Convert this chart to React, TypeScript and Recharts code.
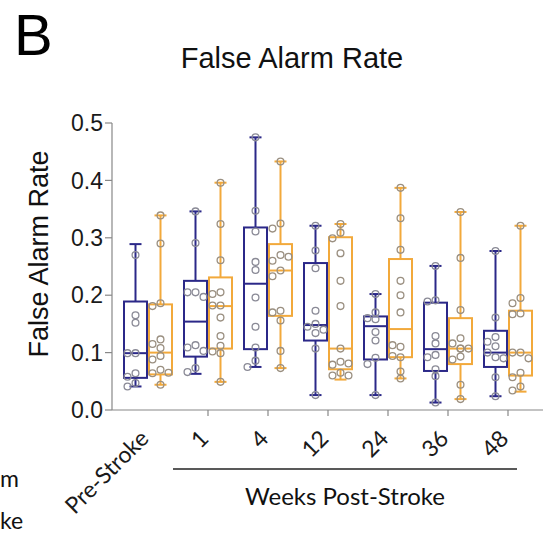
import { ComposedChart, Bar, XAxis, YAxis } from 'recharts'

// groups on the x axis
const groups = ['Pre-Stroke', '1', '4', '12', '24', '36', '48']

// five-number summaries: [min, q1, median, q3, max]
const shamBox = [
  [0.041, 0.056, 0.099, 0.189, 0.289],
  [0.063, 0.093, 0.154, 0.225, 0.346],
  [0.075, 0.106, 0.22, 0.318, 0.475],
  [0.026, 0.121, 0.148, 0.256, 0.321],
  [0.026, 0.088, 0.146, 0.163, 0.202],
  [0.013, 0.068, 0.106, 0.187, 0.251],
  [0.024, 0.075, 0.1, 0.138, 0.277],
]
const strokeBox = [
  [0.044, 0.062, 0.1, 0.184, 0.339],
  [0.049, 0.107, 0.181, 0.231, 0.396],
  [0.073, 0.164, 0.243, 0.289, 0.433],
  [0.053, 0.071, 0.107, 0.301, 0.324],
  [0.055, 0.092, 0.141, 0.263, 0.387],
  [0.019, 0.08, 0.107, 0.16, 0.345],
  [0.032, 0.06, 0.1, 0.173, 0.321],
]

// individual animals
const shamPts = [
  [0.27, 0.165, 0.152, 0.099, 0.099, 0.064, 0.058, 0.047, 0.041],
  [0.346, 0.291, 0.205, 0.205, 0.197, 0.113, 0.109, 0.103, 0.073, 0.066],
  [0.475, 0.347, 0.311, 0.258, 0.244, 0.196, 0.145, 0.109, 0.086, 0.075],
  [0.321, 0.278, 0.247, 0.173, 0.15, 0.145, 0.14, 0.134, 0.107, 0.026],
  [0.202, 0.17, 0.16, 0.158, 0.136, 0.121, 0.091, 0.08, 0.026],
  [0.251, 0.191, 0.189, 0.129, 0.116, 0.096, 0.092, 0.071, 0.059, 0.013],
  [0.277, 0.161, 0.127, 0.119, 0.111, 0.1, 0.092, 0.09, 0.057, 0.024],
]
const strokePts = [
  [0.339, 0.29, 0.186, 0.181, 0.123, 0.115, 0.108, 0.094, 0.088, 0.07, 0.064, 0.065, 0.044],
  [0.396, 0.324, 0.261, 0.205, 0.202, 0.182, 0.182, 0.161, 0.129, 0.112, 0.102, 0.099, 0.049],
  [0.433, 0.325, 0.316, 0.27, 0.26, 0.267, 0.243, 0.233, 0.173, 0.17, 0.156, 0.103, 0.073],
  [0.324, 0.309, 0.299, 0.273, 0.225, 0.181, 0.107, 0.084, 0.079, 0.081, 0.065, 0.06, 0.06],
  [0.387, 0.334, 0.279, 0.225, 0.2, 0.17, 0.11, 0.113, 0.092, 0.094, 0.067, 0.055],
  [0.345, 0.265, 0.174, 0.125, 0.116, 0.107, 0.107, 0.107, 0.093, 0.088, 0.044, 0.019],
  [0.321, 0.195, 0.186, 0.168, 0.167, 0.1, 0.1, 0.09, 0.065, 0.057, 0.041, 0.034],
]

const yTicks = [0, 0.1, 0.2, 0.3, 0.4, 0.5]

const BLUE = '#2b2888'
const ORANGE = '#f2a93b'
const FONT = 'Lato, "Open Sans", sans-serif'
const ARIAL = '"Liberation Sans", Arial, sans-serif'

const data = groups.map((name, i) => ({
  name,
  sham: [shamBox[i][0], shamBox[i][4]],
  stroke: [strokeBox[i][0], strokeBox[i][4]],
  shamBox: shamBox[i],
  strokeBox: strokeBox[i],
  shamPts: shamPts[i],
  strokePts: strokePts[i],
}))

// simple beeswarm: nudge a dot sideways when it would sit on top of another
function swarm(ys: number[], r: number) {
  const placed: { x: number; y: number }[] = []
  const cands = [0, -8, 8, -4, 4, -11, 11]
  return ys.map((y) => {
    let off = 0
    for (const c of cands) {
      if (!placed.some((p) => Math.abs(p.x - c) < 2 * r && Math.abs(p.y - y) < 2 * r)) {
        off = c
        break
      }
    }
    placed.push({ x: off, y })
    return off
  })
}

function makeBox(key: 'sham' | 'stroke', color: string, dot: string) {
  return (props: any) => {
    const { x, y, width, height, payload } = props
    const [mn, q1, med, q3, mx] = payload[key + 'Box']
    const pts: number[] = payload[key + 'Pts']
    const top = Math.min(y, y + height)
    const bot = Math.max(y, y + height)
    const px = (v: number) => bot - ((v - mn) / (mx - mn)) * (bot - top)
    const cx = x + width / 2
    const ys = pts.map(px)
    const offs = swarm(ys, 3.4)
    return (
      <g>
        <line x1={cx} x2={cx} y1={px(mx)} y2={px(mn)} stroke={color} strokeWidth={2} />
        <line x1={cx - 6} x2={cx + 6} y1={px(mx)} y2={px(mx)} stroke={color} strokeWidth={2} />
        <line x1={cx - 6} x2={cx + 6} y1={px(mn)} y2={px(mn)} stroke={color} strokeWidth={2} />
        <rect x={x} y={px(q3)} width={width} height={px(q1) - px(q3)} fill="#fff" stroke={color} strokeWidth={2} />
        <line x1={x} x2={x + width} y1={px(med)} y2={px(med)} stroke={color} strokeWidth={2} />
        {ys.map((py, i) => (
          <circle key={i} cx={cx + offs[i]} cy={py} r={3.4} fill="none" stroke={dot} strokeWidth={1.3} />
        ))}
      </g>
    )
  }
}

function XTick(props: any) {
  const { x, y, payload, index } = props
  const ax = x + 2
  const ay = y + 30
  return (
    <g>
      {index > 0 && <line x1={x} x2={x} y1={y} y2={y + 6} stroke="#888" strokeWidth={1.2} />}
      <text
        x={ax}
        y={ay}
        textAnchor="end"
        transform={`rotate(-45, ${ax}, ${ay})`}
        fontSize={23}
        fontFamily={FONT}
        fill="#1a1a1a"
      >
        {payload.value}
      </text>
    </g>
  )
}

export default function App() {
  return (
    <div style={{ position: 'absolute', left: 0, top: 0, width: 543, height: 536, background: '#fff', overflow: 'hidden' }}>
      <ComposedChart
        width={543}
        height={536}
        data={data}
        margin={{ top: 123, right: 0, bottom: 0, left: 0 }}
        barCategoryGap={6}
        barGap={2}
      >
        <XAxis
          dataKey="name"
          height={126}
          padding={{ left: 6, right: 5 }}
          axisLine={{ stroke: '#888', strokeWidth: 1.2 }}
          tickLine={false}
          tickSize={0}
          tickMargin={0}
          interval={0}
          tick={<XTick />}
        />
        <YAxis
          width={112}
          domain={[0, 0.5]}
          ticks={yTicks}
          tickFormatter={(v: number) => v.toFixed(1)}
          axisLine={{ stroke: '#888', strokeWidth: 1.2 }}
          tickLine={{ stroke: '#888', strokeWidth: 1.2 }}
          tickSize={7}
          tickMargin={2}
          tick={{ fill: '#1a1a1a', fontSize: 23, fontFamily: ARIAL }}
        />
        <Bar dataKey="sham" barSize={23} isAnimationActive={false} shape={makeBox('sham', BLUE, '#8a8a96')} />
        <Bar dataKey="stroke" barSize={23} isAnimationActive={false} shape={makeBox('stroke', ORANGE, '#9a8f80')} />
      </ComposedChart>
      <svg width={543} height={536} style={{ position: 'absolute', left: 0, top: 0, pointerEvents: 'none' }}>
        <text x={14} y={55} fontSize={58} fontFamily={ARIAL} fill="#000">B</text>
        <text x={292} y={68} textAnchor="middle" fontSize={29} fontFamily={ARIAL} fill="#111">
          False Alarm Rate
        </text>
        <text x={48} y={254} textAnchor="middle" transform="rotate(-90, 48, 254)" fontSize={27} fontFamily={ARIAL} fill="#111">
          False Alarm Rate
        </text>
        <line x1={173} x2={517} y1={469} y2={469} stroke="#222" strokeWidth={1.5} />
        <text x={345} y={505} textAnchor="middle" fontSize={24} fontFamily={FONT} fill="#111">
          Weeks Post-Stroke
        </text>
        <text x={0} y={487} fontSize={23} fontFamily={FONT} fill="#111">m</text>
        <text x={0} y={529} fontSize={23} fontFamily={FONT} fill="#111">ke</text>
      </svg>
    </div>
  )
}
